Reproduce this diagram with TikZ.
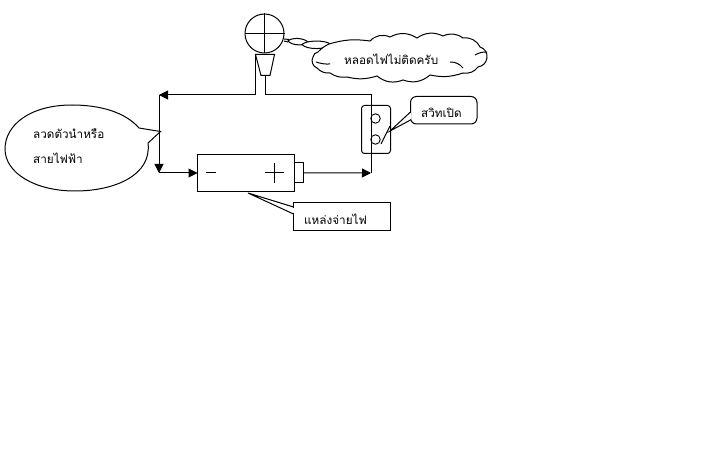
\documentclass[tikz,border=0pt]{standalone}
\usepackage{fontspec}
\newfontfamily\thaifont[Script=Thai]{Loma}
\usetikzlibrary{arrows.meta}
\tikzset{
  wire/.style={draw=black,line width=1pt},
  arrowwire/.style={wire,-{Triangle[length=9pt,width=9pt]}},
  outline/.style={draw=black,line width=1pt,fill=white},
  thai/.style={font=\thaifont\fontsize{11.7}{14}\selectfont,inner sep=0pt,anchor=west,text=black},
  hole/.style={circle,draw=black,line width=.9pt,inner sep=0pt,minimum size=9.5pt},
  anchorbox/.style={inner sep=0pt,outer sep=0pt,anchor=north west},
}
\begin{document}
\begin{tikzpicture}[x=1pt,y=-1pt]
\useasboundingbox (0,0) rectangle (712,473);
\fill[white] (0,0) rectangle (712,473);

% junction points
\coordinate (baseTL) at (255.5,54.5);
\coordinate (baseTR) at (274.5,54.5);
\coordinate (baseBR) at (270,75.5);
\coordinate (baseBL) at (261,75.5);
\coordinate (wireL) at (255.5,95);
\coordinate (wireB) at (265.5,75.5);
\coordinate (wireR) at (265.5,95);
\coordinate (corner) at (371,95);
\coordinate (leftTop) at (159,95);
\coordinate (leftBot) at (159,173);
\coordinate (rightBot) at (371,173);

% speech bubble (left)
\coordinate (tipE) at (160.5,131.5);
\draw[outline] (139,128) .. controls (125,112) and (100,105) .. (72,105)
  .. controls (30,105) and (5,125) .. (5,149)
  .. controls (5,173) and (35,191) .. (75,191)
  .. controls (115,191) and (152,175) .. (148,143)
  -- (tipE) -- cycle;
\node[thai] (wireTextA) at (33,134) {ลวดตัวนำหรือ};
\node[thai] (wireTextB) at (33,158) {สายไฟฟ้า};

% circuit wires
\draw[wire] (baseTL) -- (wireL);
\draw[arrowwire] (wireL) -- (leftTop);
\draw[arrowwire] (leftTop) -- (leftBot);
\draw[wire] (wireB) -- (wireR) -- (corner) -- (rightBot);

% bulb
\node[circle,draw=black,line width=1pt,inner sep=0pt,minimum size=39pt] (bulb) at (264.5,33.5) {};
\draw[wire] (bulb.north) -- (bulb.south);
\draw[wire] (bulb.west) -- (bulb.east);
\draw[outline] (baseTL) -- (baseTR) -- (baseBR) -- (baseBL) -- cycle;

% thought bubbles
\coordinate (bulbOut) at (284,39);
\draw[wire] (bulbOut) -- (289,39.5);
\draw[wire] (284,41) -- (288,42);
\draw[outline] (288,41) .. controls (292,37) and (304,38) .. (308,42)
  .. controls (306,46) and (292,46) .. (288,41) -- cycle;
\draw[outline] (302,44.5) .. controls (306,40) and (326,40) .. (330,44)
  .. controls (328,50) and (306,50) .. (302,44.5) -- cycle;

% cloud
\draw[outline] (329,44) to[bend left=12] (370,41) to[bend left=35] (390,37)
  to[bend left=30] (417,38) to[bend left=30] (443,36) to[bend left=30] (463,38)
  to[bend left=35] (480,47) to[bend left=40] (487,58) to[bend left=35] (478,67)
  to[bend left=30] (463,73) to[bend left=15] (430,75) to[bend left=30] (403,80)
  to[bend left=30] (377,76) to[bend left=15] (347,77) to[bend left=20] (330,73)
  to[bend left=25] (317,68) to[bend left=50] (313,57) to[bend left=35] (318,52)
  to[bend left=10] cycle;
\draw[wire] (316,62) to[bend right=10] (330,64);
\draw[wire] (450,62) to[bend left=25] (463,68);
\draw[wire] (475,55) to[bend left=15] (487,52);
\node[thai] (lampText) at (344,59) {หลอดไฟไม่ติดครับ};

% switch
\draw[draw=black,line width=1pt,rounded corners=3pt] (361.5,105.5) rectangle (390.5,153.5);
\node[hole] (holeA) at (375.5,118.5) {};
\node[hole] (holeB) at (375.5,139.5) {};
\draw[wire] (381,144) -- (390,126);

% switch callout
\draw[outline,rounded corners=6pt] (410.5,96.5) rectangle (477,124);
\draw[white,line width=1.2pt] (410.5,112.7) -- (410.5,119.3);
\coordinate (tipS) at (390,131);
\draw[wire] (410.5,112) -- (tipS) -- (410.5,120);
\node[thai] (switchText) at (421,113) {สวิทเปิด};

% battery
\node[anchorbox,draw=black,line width=1pt,minimum width=96.5pt,minimum height=37pt] (battery) at (197.5,154.5) {};
\node[anchorbox,draw=black,line width=1pt,minimum width=9pt,minimum height=19.5pt] (terminal) at (294,163) {};
\draw[wire] (206,173) -- (216,173);
\draw[wire] (265,173) -- (284,173);
\draw[wire] (274.5,163.5) -- (274.5,183);
\draw[arrowwire] (leftBot) -- (battery.west |- leftBot);
\draw[arrowwire] (terminal.east) -- (rightBot);

% battery callout
\node[anchorbox,draw=black,line width=1pt,minimum width=97pt,minimum height=28.5pt] (sourceBox) at (293.5,202.5) {};
\coordinate (tipB) at (248,193);
\draw[wire] (sourceBox.north west |- 0,207) -- (tipB) -- (sourceBox.north west |- 0,214);
\draw[white,line width=1.2pt] (293.5,207.7) -- (293.5,213.3);
\node[thai] (sourceText) at (304,219) {แหล่งจ่ายไฟ};
\end{tikzpicture}
\end{document}
